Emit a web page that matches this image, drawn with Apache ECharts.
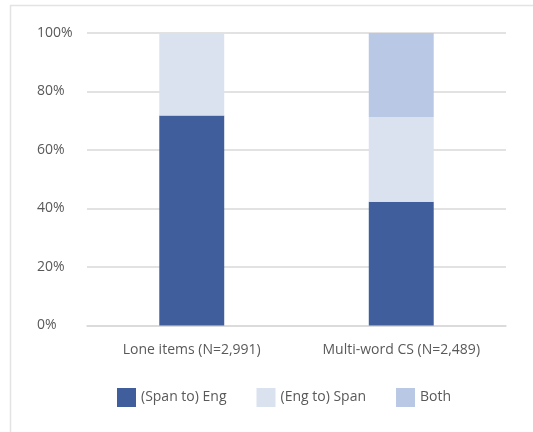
<!DOCTYPE html>
<html>
<head>
<meta charset="utf-8">
<script src="https://cdn.jsdelivr.net/npm/echarts@6/dist/echarts.min.js"></script>
<style>
  html, body { margin: 0; padding: 0; background: #fff; }
  #chart { width: 533px; height: 432px; }
</style>
</head>
<body>
<div id="chart"></div>
<script>
// Share of switch direction by item type (percent of items)
const categories = ['Lone items (N=2,991)', 'Multi-word CS (N=2,489)'];
const spanToEng = [71.8, 42.3];
const engToSpan = [28.2, 29.0];
const both = [0, 28.7];
const yTicks = [0, 20, 40, 60, 80, 100];

const FONT = '"Open Sans", "Liberation Sans", sans-serif';
const TEXT = '#595959';

const chart = echarts.init(document.getElementById('chart'), null, { renderer: 'canvas' });

function barSeries(name, data, color) {
  return {
    name: name,
    type: 'bar',
    stack: 'total',
    barWidth: '31%',
    data: data,
    itemStyle: { color: color },
    emphasis: { disabled: true }
  };
}

chart.setOption({
  animation: false,
  backgroundColor: '#ffffff',
  grid: { left: 87, right: 27, top: 33, bottom: 106.5 },
  graphic: [
    { type: 'line', shape: { x1: 10, y1: 5.5, x2: 533, y2: 5.5 }, style: { stroke: '#e3e3e3', lineWidth: 1.5 }, silent: true },
    { type: 'line', shape: { x1: 10.5, y1: 5, x2: 10.5, y2: 432 }, style: { stroke: '#e3e3e3', lineWidth: 1.5 }, silent: true }
  ],
  legend: {
    left: 112,
    top: 383,
    itemWidth: 19,
    itemHeight: 19,
    itemGap: 30,
    icon: 'rect',
    textStyle: { fontFamily: FONT, fontSize: 14, color: TEXT },
    data: ['(Span to) Eng', '(Eng to) Span', 'Both']
  },
  xAxis: {
    type: 'category',
    data: categories,
    axisLine: { show: true, lineStyle: { color: '#d9d9d9', width: 1.5 } },
    axisTick: { show: false },
    axisLabel: { fontFamily: FONT, fontSize: 14, color: TEXT, margin: 18 }
  },
  yAxis: {
    type: 'value',
    min: yTicks[0],
    max: yTicks[yTicks.length - 1],
    interval: 20,
    axisLine: { show: false },
    axisTick: { show: false },
    splitLine: { lineStyle: { color: '#d9d9d9', width: 1.5 } },
    axisLabel: {
      fontFamily: FONT, fontSize: 14, color: TEXT,
      align: 'left', margin: 50,
      formatter: v => v + '%'
    }
  },
  series: [
    barSeries('(Span to) Eng', spanToEng, '#405e9c'),
    barSeries('(Eng to) Span', engToSpan, '#dae1ef'),
    barSeries('Both', both, '#b9c8e4')
  ]
});
</script>
</body>
</html>
